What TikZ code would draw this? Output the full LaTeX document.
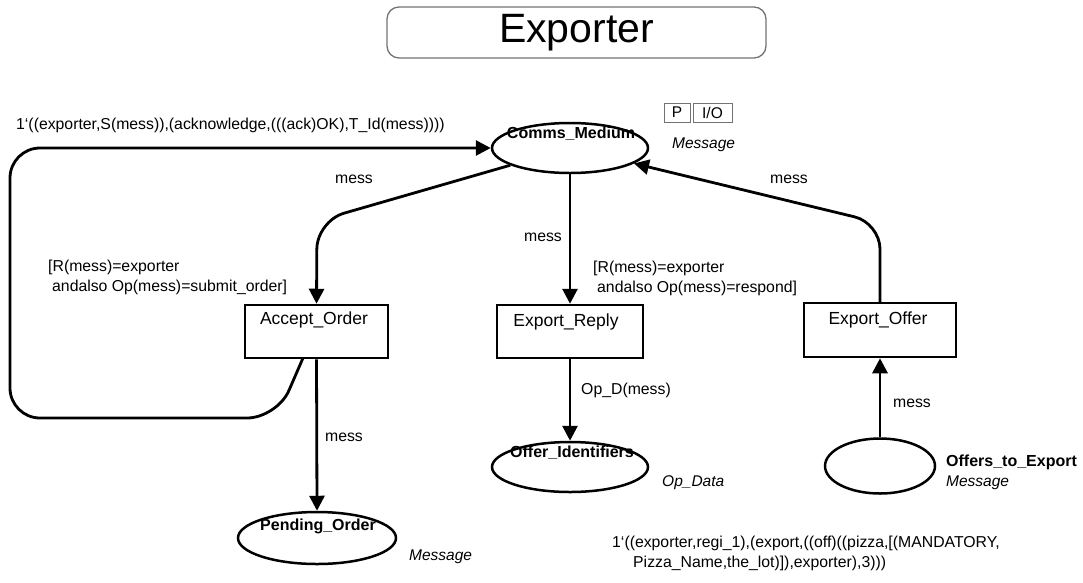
\documentclass[tikz,border=0pt]{standalone}
\usepackage{fontspec}
\setmainfont{Liberation Sans}
\usetikzlibrary{shapes.geometric,arrows.meta}
\begin{document}
\begin{tikzpicture}[x=1pt,y=-1pt,
  place/.style={ellipse,draw,line width=2.5pt,inner sep=0pt},
  trans/.style={rectangle,draw,line width=2.5pt,inner sep=0pt},
  arc/.style={line width=2.8pt,-{Triangle[length=15pt,width=15pt]}},
  lbl/.style={font=\fontsize{15.8}{20}\selectfont,inner sep=0pt},
  pname/.style={font=\fontsize{16}{20}\selectfont\bfseries,inner sep=0pt},
  tname/.style={font=\fontsize{17.5}{21}\selectfont,inner sep=0pt},
  ptype/.style={font=\fontsize{15.5}{20}\selectfont\itshape,inner sep=0pt,anchor=west},
  tag/.style={draw=black!55,line width=1pt,inner sep=0pt,minimum height=19pt,font=\fontsize{15.5}{20}\selectfont}
]
\useasboundingbox (0,0) rectangle (1083,582);

% page title
\node[draw=black!55,line width=1.3pt,rounded corners=12pt,minimum width=379pt,minimum height=51pt,
      inner sep=0pt,font=\fontsize{41}{44}\selectfont] (title) at (576.5,32.5) {Exporter};

% places
\node[place,minimum width=156pt,minimum height=50pt] (comms) at (570,148) {};
\node[pname] (commsN) at (571,134) {Comms\_Medium};
\node[tag,minimum width=26pt] (portP) at (677,112.5) {P};
\node[tag,minimum width=39pt] (portIO) at (712.5,112.5) {I/O};
\node[ptype] (commsT) at (672,145) {Message};

\node[place,minimum width=156pt,minimum height=50pt] (offid) at (570,467) {};
\node[pname] (offidN) at (572,453) {Offer\_Identifiers};
\node[ptype] (offidT) at (662,483) {Op\_Data};

\node[place,minimum width=158pt,minimum height=52pt] (pend) at (317,538) {};
\node[pname] (pendN) at (318,526) {Pending\_Order};
\node[ptype] (pendT) at (409,557) {Message};

\node[place,minimum width=110pt,minimum height=55pt] (offers) at (880,466) {};
\node[pname,anchor=west] (offersN) at (946,462) {Offers\_to\_Export};
\node[ptype] (offersT) at (946,483) {Message};

% transitions
\node[trans,minimum width=143pt,minimum height=53pt] (accept) at (316.5,331.5) {};
\node[tname] (acceptN) at (314,320) {Accept\_Order};
\node[trans,minimum width=146pt,minimum height=53pt] (reply) at (570,331.5) {};
\node[tname] (replyN) at (566,322) {Export\_Reply};
\node[trans,minimum width=152pt,minimum height=54pt] (offer) at (880,330) {};
\node[tname] (offerN) at (878,320) {Export\_Offer};

% arcs
\coordinate (c1) at (317,221);
\draw[arc,rounded corners=28pt] (comms) -- (c1) -- (accept.north);
\draw[arc] (comms.south) -- (reply.north);
\coordinate (c2) at (880,223);
\draw[arc,rounded corners=26pt] (offer.north) -- (c2) -- (comms);
\coordinate (a0) at (303,358);
\coordinate (c3) at (277,418);
\coordinate (c4) at (10,418);
\coordinate (c5) at (10,148);
\draw[arc,rounded corners=30pt] (a0) -- (c3) -- (c4) -- (c5) -- (comms.west);
\draw[arc] (accept.south) -- (pend.north);
\draw[arc] (reply.south) -- (offid.north);
\draw[arc] (offers.north) -- (offer.south);

% inscriptions
\node[lbl,anchor=west] (ackExpr) at (16,125) {1`((exporter,S(mess)),(acknowledge,(((ack)OK),T\_Id(mess))))};
\node[lbl] (m1) at (354,179) {mess};
\node[lbl,anchor=west,align=left] (guard1) at (48,277) {[R(mess)=exporter\\\hspace*{4pt}andalso Op(mess)=submit\_order]};
\node[lbl] (m2) at (543,237) {mess};
\node[lbl,anchor=west,align=left] (guard2) at (593,278) {[R(mess)=exporter\\\hspace*{4pt}andalso Op(mess)=respond]};
\node[lbl] (m3) at (789,179) {mess};
\node[lbl] (opd) at (626,390) {Op\_D(mess)};
\node[lbl] (m4) at (344,437) {mess};
\node[lbl] (m5) at (912,403) {mess};
\node[lbl,anchor=west,align=left] (init) at (612,553) {1`((exporter,regi\_1),(export,((off)((pizza,[(MANDATORY,\\\hspace*{21pt}Pizza\_Name,the\_lot)]),exporter),3)))};
\end{tikzpicture}
\end{document}
